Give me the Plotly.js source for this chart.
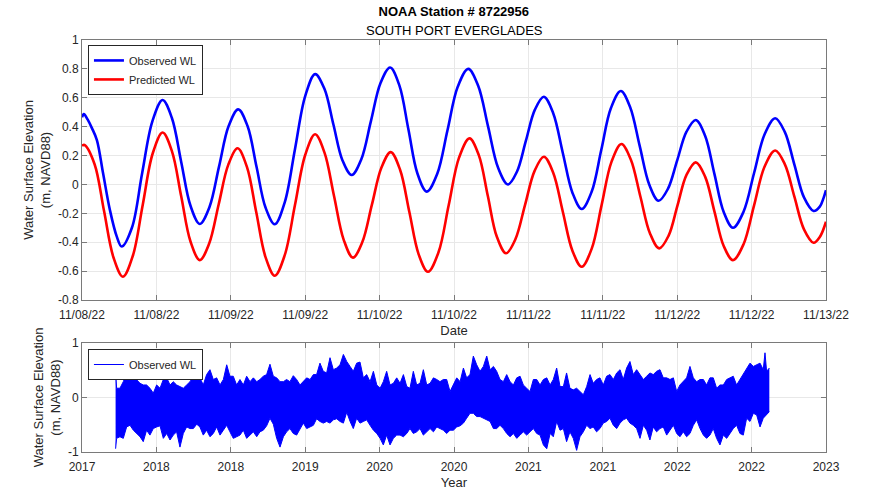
<!DOCTYPE html>
<html><head><meta charset="utf-8">
<script src="https://cdn.plot.ly/plotly-3.0.1.min.js"></script>
<style>html,body{margin:0;padding:0;background:#fff}#chart{width:871px;height:491px}</style>
</head><body><div id="chart"></div>
<script>
// ---- Top panel: hours since 11/08/22 00:00 and water level (m, NAVD88)
const obsHours = [0,0.3,0.9,1.6,2.4,3.4,4.5,5.6,6.4, 8.05,9.7,11.35,13.0, 14.5,16.0,17.5,19.0, 20.55,22.1,23.65,25.2, 26.7,28.15,29.6,31.1, 32.7,34.35,36.0,37.6, 39.1,40.55,42.0,43.5, 45.05,46.6,48.15,49.7, 51.2,52.65,54.1,55.6, 57.3,58.95,60.6,62.3, 63.9,65.5,67.1,68.7, 70.15,71.6,73.05,74.5, 76.0,77.55,79.1,80.6, 82.2,83.75,85.3,86.9, 88.4,89.95,91.5,93.0, 94.5,96.0,97.5,99.0, 100.5,102.0,103.5,105.0, 106.7,108.4,110.1,111.8, 113.35,114.9,116.45,118.0, 119.0,119.6,120];
const obsWL = [0.465,0.487,0.45,0.39,0.307,0.077,-0.177,-0.36,-0.43, -0.30,0.078,0.437,0.585, 0.46,0.156,-0.148,-0.274, -0.158,0.123,0.404,0.52, 0.404,0.122,-0.16,-0.276, -0.124,0.244,0.612,0.764, 0.662,0.415,0.168,0.065, 0.174,0.438,0.702,0.81, 0.684,0.38,0.076,-0.05, 0.074,0.375,0.676,0.80, 0.683,0.40,0.117,0.0, 0.088,0.303,0.518,0.607, 0.493,0.218,-0.057,-0.17, -0.051,0.238,0.527,0.647, 0.536,0.267,-0.002,-0.113, -0.031,0.167,0.365,0.446, 0.337,0.073,-0.191,-0.30, -0.189,0.079,0.347,0.458, 0.364,0.137,-0.09,-0.184, -0.154,-0.095,-0.04];
const predHours = [0,0.4,2.03,3.55,5.08,6.6, 8.2,9.8,11.4,13.0, 14.5,16.0,17.5,19.0, 20.5,22.05,23.6,25.1, 26.6,28.1,29.6,31.1, 32.7,34.35,36.0,37.6, 39.1,40.65,42.2,43.7, 45.2,46.75,48.3,49.8, 51.3,52.8,54.3,55.8, 57.5,59.15,60.8,62.5, 64.0,65.45,66.9,68.4, 69.9,71.45,73.0,74.5, 76.0,77.55,79.1,80.6, 82.2,83.8,85.4,87.0, 88.5,90.05,91.6,93.1, 94.6,96.05,97.5,99.0, 100.5,102.0,103.5,105.0, 106.7,108.4,110.1,111.8, 113.35,114.9,116.45,118.0, 119.0,120];
const predWL = [0.268,0.273,0.140,-0.183,-0.506,-0.639, -0.494,-0.140,0.214,0.36, 0.231,-0.082,-0.395,-0.524, -0.411,-0.137,0.137,0.25, 0.121,-0.191,-0.503,-0.632, -0.490,-0.143,0.204,0.347, 0.222,-0.080,-0.382,-0.507, -0.401,-0.142,0.117,0.224, 0.102,-0.191,-0.484,-0.605, -0.470,-0.143,0.184,0.319, 0.203,-0.079,-0.361,-0.477, -0.380,-0.143,0.094,0.192, 0.081,-0.189,-0.459,-0.57, -0.446,-0.145,0.156,0.28, 0.174,-0.082,-0.338,-0.443, -0.356,-0.145,0.066,0.153, 0.054,-0.186,-0.426,-0.524, -0.414,-0.145,0.124,0.235, 0.141,-0.085,-0.311,-0.404, -0.364,-0.258];
const topTickHours = [0,12,24,36,48,60,72,84,96,108,120];
const topTickLabels = ['11/08/22','11/08/22','11/09/22','11/09/22','11/10/22','11/10/22','11/11/22','11/11/22','11/12/22','11/12/22','11/13/22'];
const topYTickVals = [-0.8,-0.6,-0.4,-0.2,0,0.2,0.4,0.6,0.8,1];
const topYTickText = ['-0.8','-0.6','-0.4','-0.2','0','0.2','0.4','0.6','0.8','1'];

// ---- Bottom panel: long record, envelope (max / min) of the observed WL band
const bandYears = [2017.271,2017.279,2017.306,2017.333,2017.360,2017.387,2017.414,2017.441,2017.468,2017.494,2017.521,2017.548,2017.575,2017.602,2017.629,2017.656,2017.683,2017.710,2017.736,2017.763,2017.790,2017.817,2017.844,2017.871,2017.898,2017.925,2017.951,2017.978,
2018.005,2018.032,2018.059,2018.086,2018.113,2018.140,2018.167,2018.193,2018.220,2018.247,2018.274,2018.301,2018.328,2018.355,2018.382,2018.409,2018.435,2018.462,2018.489,2018.516,2018.543,2018.570,2018.597,2018.624,2018.650,2018.677,2018.704,2018.731,2018.758,2018.785,2018.812,2018.839,2018.866,2018.892,2018.919,2018.946,2018.973,
2019.000,2019.027,2019.054,2019.081,2019.108,2019.135,2019.162,2019.188,2019.215,2019.242,2019.269,2019.296,2019.323,2019.350,2019.377,2019.404,2019.430,2019.457,2019.484,2019.511,2019.538,2019.565,2019.592,2019.619,2019.645,2019.672,2019.699,2019.726,2019.753,2019.780,2019.807,2019.834,2019.861,2019.887,2019.914,2019.941,2019.968,2019.995,
2020.022,2020.049,2020.076,2020.102,2020.129,2020.156,2020.183,2020.210,2020.237,2020.264,2020.291,2020.318,2020.344,2020.371,2020.398,2020.425,2020.452,2020.479,2020.506,2020.533,2020.559,2020.586,2020.613,2020.640,2020.667,2020.694,2020.721,2020.748,2020.775,2020.801,
2020.828,2020.855,2020.882,2020.908,2020.935,2020.962,2020.989,
2021.016,2021.043,2021.070,2021.097,2021.123,2021.150,2021.177,2021.204,2021.231,2021.258,2021.285,2021.312,2021.339,2021.365,2021.392,2021.419,2021.446,2021.473,2021.500,2021.527,2021.554,2021.580,2021.607,2021.634,2021.661,2021.688,2021.715,2021.742,2021.769,2021.796,2021.822,2021.849,2021.876,2021.903,2021.930,2021.957,2021.984,
2022.011,2022.037,2022.064,2022.091,2022.118,2022.145,2022.172,2022.199,2022.226,2022.252,2022.279,2022.306,2022.333,2022.360,2022.387,2022.414,2022.441,2022.468,2022.494,2022.508,2022.521,2022.543];
const bandHigh = [0.50,0.17,0.17,0.29,0.45,0.36,0.39,0.33,0.26,0.23,0.23,0.17,0.08,0.23,0.17,0.33,0.36,0.23,0.29,0.23,0.20,0.17,0.23,0.29,0.39,0.54,0.36,0.23,
0.42,0.51,0.33,0.36,0.23,0.33,0.60,0.39,0.39,0.23,0.33,0.23,0.39,0.29,0.36,0.29,0.33,0.39,0.42,0.61,0.39,0.36,0.29,0.29,0.33,0.29,0.40,0.33,0.23,0.29,0.36,0.33,0.42,0.42,0.63,0.48,0.45,
0.73,0.51,0.54,0.60,0.79,0.66,0.57,0.48,0.63,0.65,0.36,0.42,0.29,0.48,0.23,0.17,0.29,0.48,0.23,0.26,0.36,0.26,0.42,0.20,0.17,0.48,0.23,0.26,0.51,0.23,0.26,0.36,0.33,0.29,0.33,0.33,0.11,0.23,
0.36,0.29,0.54,0.36,0.42,0.76,0.60,0.48,0.57,0.76,0.51,0.57,0.48,0.33,0.29,0.42,0.29,0.23,0.36,0.39,0.23,0.17,0.11,0.33,0.33,0.23,0.33,0.36,0.23,0.33,
0.54,0.20,0.20,0.45,0.17,0.14,0.17,
0.11,0.05,0.20,0.42,0.26,0.33,0.36,0.23,0.39,0.42,0.33,0.45,0.51,0.33,0.54,0.66,0.42,0.51,0.42,0.33,0.39,0.45,0.42,0.48,0.51,0.36,0.36,0.33,0.36,0.11,0.23,0.29,0.36,0.57,0.36,0.29,0.33,
0.33,0.23,0.36,0.36,0.17,0.23,0.23,0.33,0.36,0.39,0.23,0.33,0.42,0.54,0.63,0.57,0.60,0.63,0.51,0.82,0.48,0.54];
const bandLow = [-0.94,-0.75,-0.72,-0.75,-0.54,-0.51,-0.60,-0.66,-0.72,-0.81,-0.60,-0.69,-0.57,-0.54,-0.52,-0.75,-0.66,-0.78,-0.69,-0.63,-0.91,-0.66,-0.54,-0.57,-0.57,-0.49,-0.54,-0.69,
-0.60,-0.72,-0.66,-0.54,-0.69,-0.60,-0.51,-0.63,-0.75,-0.72,-0.69,-0.60,-0.75,-0.69,-0.63,-0.72,-0.63,-0.60,-0.52,-0.38,-0.49,-0.75,-0.91,-0.72,-0.63,-0.57,-0.66,-0.69,-0.57,-0.47,-0.57,-0.54,-0.51,-0.39,-0.44,-0.47,-0.44,
-0.47,-0.41,-0.39,-0.44,-0.47,-0.27,-0.44,-0.57,-0.38,-0.47,-0.44,-0.41,-0.51,-0.60,-0.66,-0.75,-0.87,-0.69,-0.87,-0.75,-0.69,-0.69,-0.72,-0.66,-0.57,-0.66,-0.63,-0.57,-0.69,-0.63,-0.57,-0.63,-0.54,-0.57,-0.60,-0.66,-0.60,-0.60,
-0.54,-0.52,-0.47,-0.38,-0.29,-0.29,-0.35,-0.35,-0.38,-0.41,-0.44,-0.57,-0.57,-0.51,-0.57,-0.66,-0.72,-0.66,-0.75,-0.69,-0.63,-0.69,-0.63,-0.57,-0.66,-0.69,-0.87,-0.94,-0.66,-0.72,
-0.44,-0.60,-0.57,-0.81,-0.63,-0.75,-0.97,
-0.72,-0.63,-0.51,-0.57,-0.54,-0.63,-0.57,-0.47,-0.44,-0.38,-0.51,-0.57,-0.47,-0.41,-0.38,-0.47,-0.51,-0.57,-0.75,-0.51,-0.60,-0.78,-0.54,-0.63,-0.57,-0.54,-0.69,-0.60,-0.51,-0.66,-0.72,-0.63,-0.72,-0.66,-0.51,-0.41,-0.57,
-0.69,-0.75,-0.69,-0.57,-0.75,-0.87,-0.69,-0.75,-0.66,-0.57,-0.51,-0.66,-0.69,-0.38,-0.44,-0.29,-0.32,-0.54,-0.38,-0.35,-0.32,-0.26];
const yearTickVals = [2017,2017.6,2018.2,2018.8,2019.4,2020,2020.6,2021.2,2021.8,2022.4,2023];
const yearTickLabels = ['2017','2018','2018','2019','2020','2020','2021','2021','2022','2022','2023'];

const t0 = Date.UTC(2022,10,8,0,0,0);
const toDate = h => new Date(t0 + h*3600000).toISOString().replace('T',' ').slice(0,23);

const BLUE = '#0000FF', RED = '#FF0000';
const traces = [
  {x: obsHours.map(toDate), y: obsWL, type:'scatter', mode:'lines', name:'Observed WL',
   line:{color:BLUE, width:2.6, shape:'spline', smoothing:1}, xaxis:'x', yaxis:'y', legend:'legend'},
  {x: predHours.map(toDate), y: predWL, type:'scatter', mode:'lines', name:'Predicted WL',
   line:{color:RED, width:2.6, shape:'spline', smoothing:1}, xaxis:'x', yaxis:'y', legend:'legend'},
  {x: bandYears, y: bandLow, type:'scatter', mode:'lines', showlegend:false, hoverinfo:'skip',
   line:{color:BLUE, width:1}, xaxis:'x2', yaxis:'y2', legend:'legend2'},
  {x: bandYears, y: bandHigh, type:'scatter', mode:'lines', showlegend:false, fill:'tonexty', fillcolor:BLUE,
   line:{color:BLUE, width:1}, xaxis:'x2', yaxis:'y2', legend:'legend2'},
  {x: [null], y: [null], type:'scatter', mode:'lines', name:'Observed WL',
   line:{color:BLUE, width:1}, xaxis:'x2', yaxis:'y2', legend:'legend2'}
];

const AX = '#7a7a7a', GRID = '#e8e8e8', TXT = '#262626';
const FONT = 'Liberation Sans, Arial, Helvetica, sans-serif';
const common = {showline:true, linecolor:AX, linewidth:1, mirror:'ticks', ticks:'inside', ticklen:5,
  tickcolor:AX, showgrid:true, gridcolor:GRID, gridwidth:1, zeroline:false,
  tickfont:{family:FONT, size:12, color:TXT}};

const layout = {
  width:871, height:491, margin:{l:82, r:45, t:40, b:39},
  paper_bgcolor:'#fff', plot_bgcolor:'#fff',
  font:{family:FONT, size:12, color:TXT},
  title:{text:'<b>NOAA Station # 8722956</b>', font:{family:FONT, size:13, color:'#000'},
         x:0.521, xanchor:'center', y:1-11/491, yanchor:'middle'},
  annotations:[{text:'SOUTH PORT EVERGLADES', xref:'paper', yref:'paper', x:0.5, y:1+10/412,
    xanchor:'center', yanchor:'middle', showarrow:false, font:{family:FONT, size:13, color:'#000'}}],
  xaxis: Object.assign({}, common, {domain:[0,1], anchor:'y', type:'date',
    range:[toDate(0), toDate(120)], tickmode:'array', tickvals: topTickHours.map(toDate), ticktext: topTickLabels,
    ticklabelstandoff:4,
    title:{text:'Date', font:{family:FONT, size:13, color:TXT}, standoff:4}}),
  yaxis: Object.assign({}, common, {domain:[0.369,1], anchor:'x', range:[-0.8,1],
    tickmode:'array', tickvals: topYTickVals, ticktext: topYTickText,
    title:{text:'Water Surface Elevation<br>(m, NAVD88)', font:{family:FONT, size:13, color:TXT}, standoff:4}}),
  xaxis2: Object.assign({}, common, {domain:[0,1], anchor:'y2', range:[2017,2023],
    tickmode:'array', tickvals: yearTickVals, ticktext: yearTickLabels, ticklabelstandoff:4,
    title:{text:'Year', font:{family:FONT, size:13, color:TXT}, standoff:4}}),
  yaxis2: Object.assign({}, common, {domain:[0,0.2646], anchor:'x2', range:[-1,1],
    tickmode:'array', tickvals:[-1,0,1], ticktext:['-1','0','1'],
    title:{text:'Water Surface Elevation<br>(m, NAVD88)', font:{family:FONT, size:13, color:TXT}, standoff:4}}),
  legend:{x:0.008, y:0.988, xanchor:'left', yanchor:'top', bgcolor:'#fff', bordercolor:'#262626', borderwidth:1,
    font:{family:FONT, size:11, color:TXT}, tracegroupgap:0, itemwidth:30, traceorder:'normal'},
  legend2:{x:0.008, y:0.25, xanchor:'left', yanchor:'top', bgcolor:'#fff', bordercolor:'#262626', borderwidth:1,
    font:{family:FONT, size:11, color:TXT}, itemwidth:30, traceorder:'normal'},
  showlegend:true
};

Plotly.newPlot('chart', traces, layout, {displayModeBar:false, staticPlot:true});
</script></body></html>
